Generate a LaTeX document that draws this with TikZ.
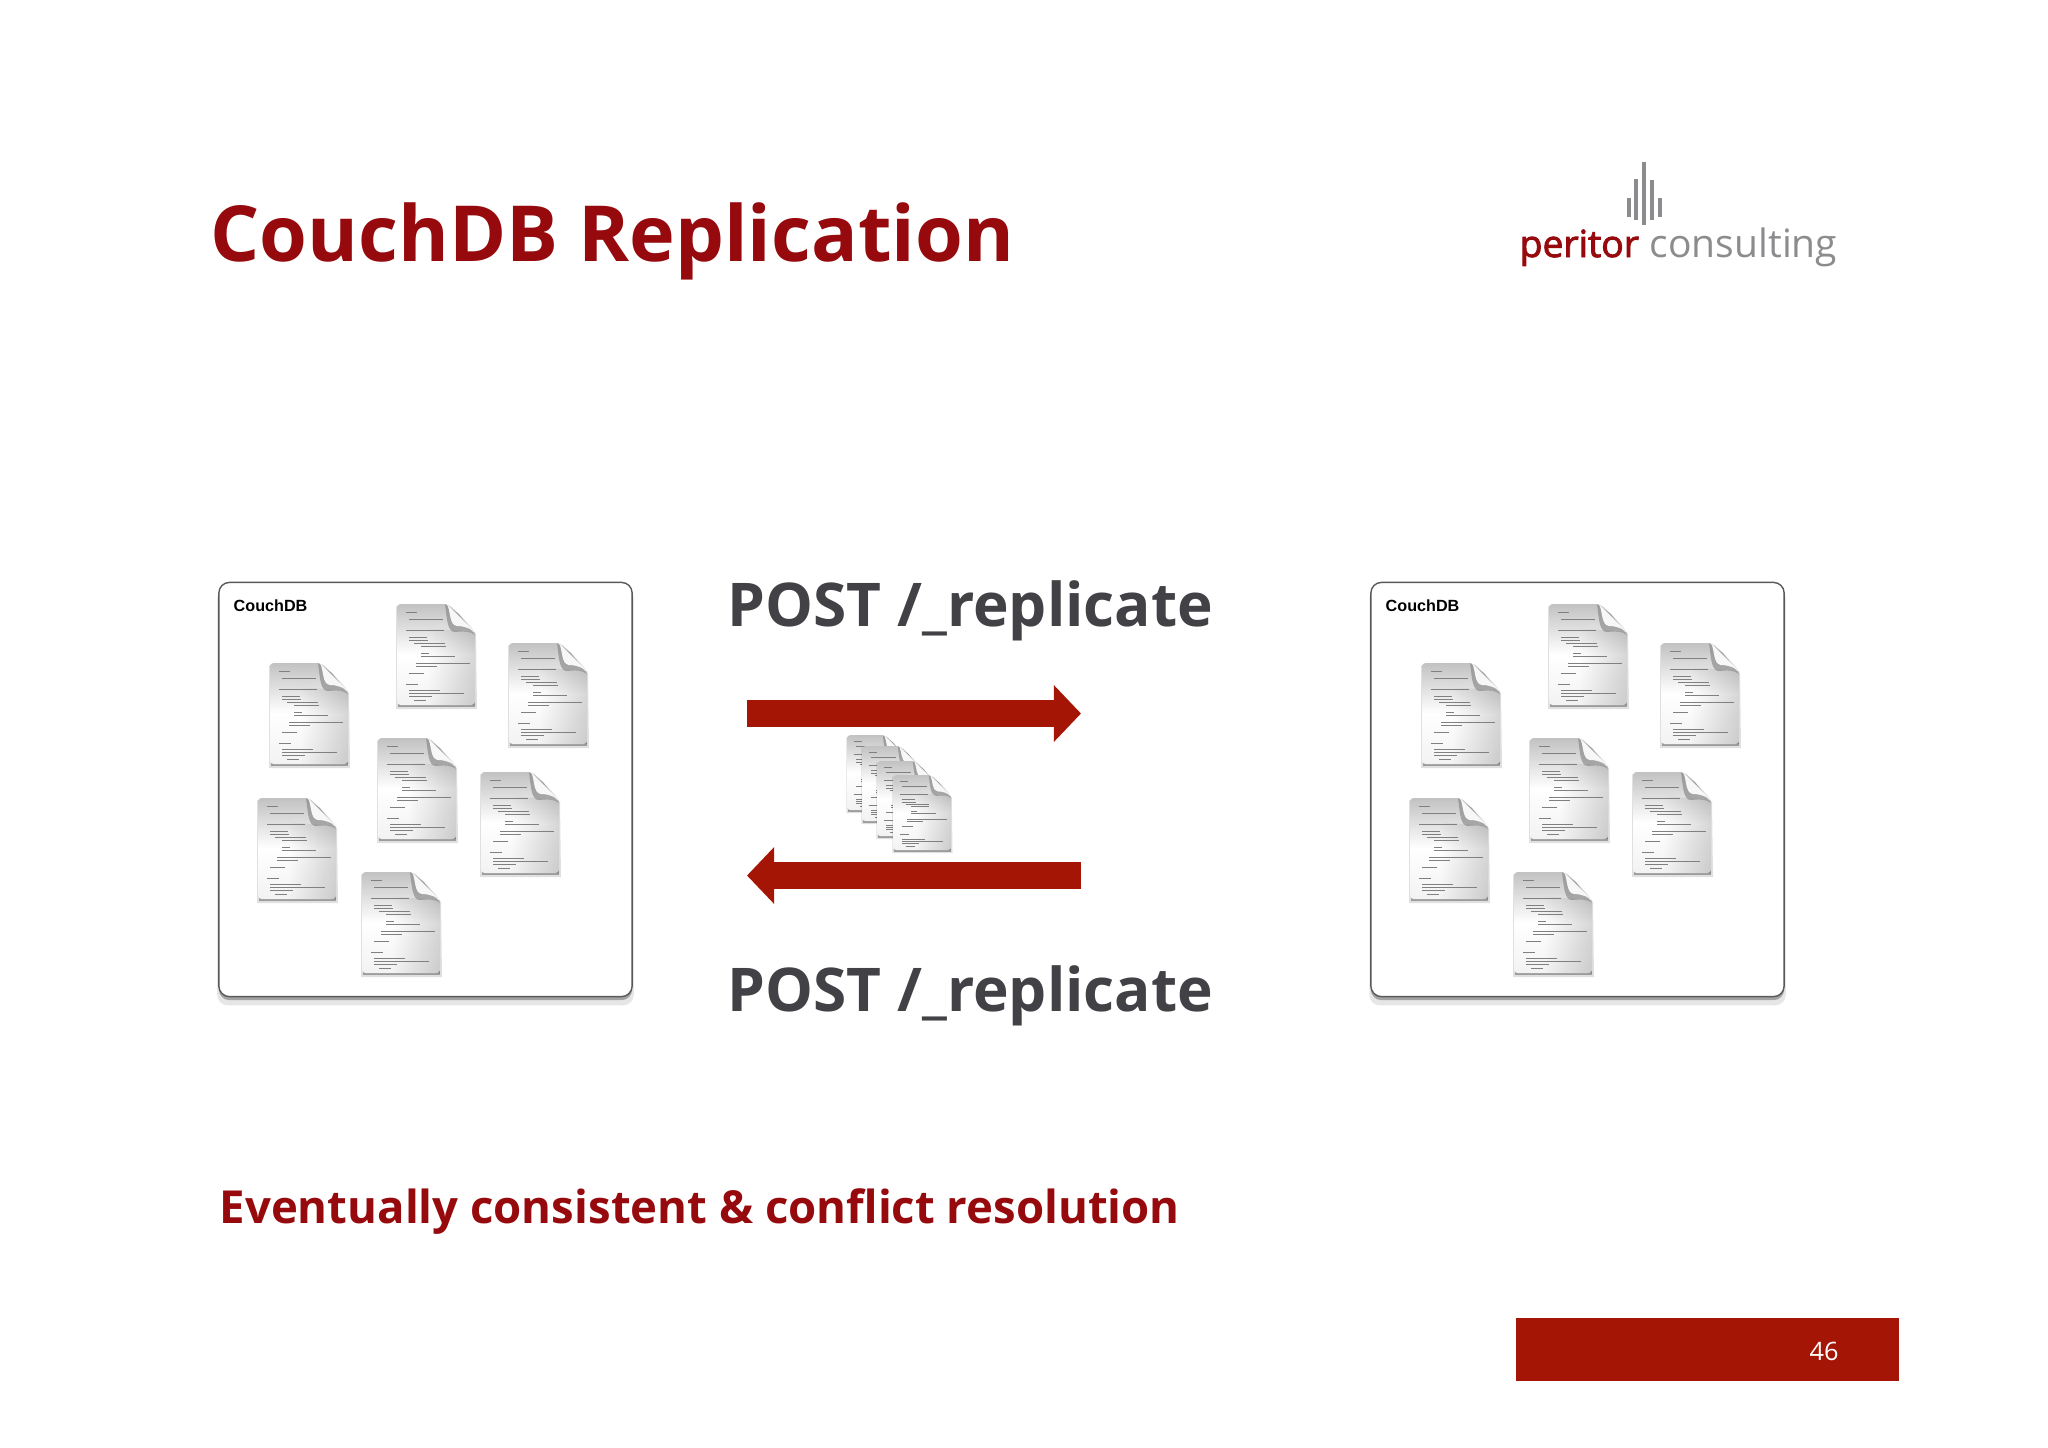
\documentclass[tikz,border=0pt]{standalone}
\usepackage{fontspec}
\setmainfont{Open Sans}
\newfontfamily\labelfont{Liberation Sans}
\newfontfamily\logofont[FakeBold=2.4]{Open Sans}
\usepackage{xcolor}
\definecolor{peritorred}{RGB}{150,10,14}
\definecolor{arrowred}{RGB}{165,21,6}
\definecolor{postgray}{RGB}{65,65,70}
\definecolor{logogray}{RGB}{140,140,142}
\usepackage{tikz}
\usetikzlibrary{arrows.meta,shadows,fadings}

\tikzset{
  dbbox/.style={draw=black!65,line width=0.4pt,rounded corners=3pt,fill=white,
        minimum width=4.13cm,minimum height=4.14cm,inner sep=0pt,
        drop shadow={shadow xshift=0pt,shadow yshift=-2pt,opacity=0.2,shadow scale=1.008},
        drop shadow={shadow xshift=0pt,shadow yshift=-1pt,opacity=0.65}},
  dbtitle/.style={font=\labelfont\bfseries\fontsize{4.6}{5}\selectfont,inner sep=0pt,anchor=west},
  replarrow/.style={line width=0.27cm,draw=arrowred,-{Triangle[length=0.27cm,width=0.55cm]}},
  posttext/.style={font=\bfseries\fontsize{17.15}{19}\selectfont,text=postgray,inner sep=0pt,anchor=base west},
  codeline/.style={draw=black!50,line width=0.16pt},
  docicon/.pic={
    \fill[black,opacity=0.12] (-1,2) -- (79,30) -- (80,105) -- (-1,105) -- cycle;
    \fill[black,opacity=0.3] (1,99) rectangle (78,103);
    \shade[top color=black!24,bottom color=black!5,middle color=white,rounded corners=1pt]
      (0,0) -- (50,0) .. controls (56,4) and (70,18) .. (78,28) -- (78,101) -- (0,101) -- cycle;
    \fill[black,opacity=0.16,path fading=west] (30,24) -- (78,28) -- (78,101) -- (30,101) -- cycle;
    \fill[black!50,opacity=0.6] (48,0) .. controls (50,14) and (50,28) .. (58,28)
      .. controls (66,27) and (74,27) .. (78,31) -- (62,10) -- cycle;
    \fill[black!3] (50,0) .. controls (54,8) and (52,21) .. (60,22)
      .. controls (68,22) and (74,25) .. (78,28) -- cycle;
    \foreach \xa/\xb/\yy in {9/20/8,12/46/15,9/47/26,12/30/33,12/31/36,17/48/39,24/49/42,
        24/32/49,24/58/52,19/73/59,19/40/62,12/27/69,9/21/80,12/43/86,12/67/89,12/35/92,17/29/96}
      \draw[codeline] (\xa,\yy) -- (\xb,\yy);
  }
}

\begin{document}
\begin{tikzpicture}[x=0.01cm,y=-0.01cm]
  \useasboundingbox (0,0) rectangle (2048,1447);

  \node[font=\bfseries\fontsize{22}{26}\selectfont,text=peritorred,inner sep=0pt,anchor=base west]
    (title) at (210,261) {CouchDB Replication};

  % logo
  \foreach \xx/\ya/\yb in {1629/198/217,1636/179/220,1644/162/225,1652/180/220,1660/198/217}
    \draw[logogray,line width=1pt] (\xx,\ya) -- (\xx,\yb);
  \node[font=\logofont\fontsize{10.6}{13}\selectfont,text=peritorred,inner sep=0pt,anchor=base west]
    (peritor) at (1519,257) {peritor};
  \node[font=\fontsize{11.1}{13}\selectfont,text=logogray,inner sep=0pt,anchor=base west]
    (consulting) at (1649,257) {consulting};

  % both databases
  \node[dbbox] (leftdb) at (425.5,789.5) {};
  \node[dbbox] (rightdb) at (1577.5,789.5) {};
  \node[dbtitle] (lefttitle) at (233,605.5) {CouchDB};
  \node[dbtitle] (righttitle) at (1385,605.5) {CouchDB};
  \foreach \xo in {0,1152}
    \foreach \xx/\yy in {397/604,509/643,270/663,378/738,481/772,258/798,362/872}
      \pic at (\xo+\xx,\yy) {docicon};

  % documents on the wire
  \foreach \xx/\yy in {847/735,862/746,877/761,893/775}
    \pic[scale=0.744] at (\xx,\yy) {docicon};

  \node[posttext] (posttop) at (727,626) {POST /\_replicate};
  \node[posttext] (postbottom) at (727,1011) {POST /\_replicate};

  \coordinate (topstart) at (747,713.5);
  \coordinate (topend) at (1081,713.5);
  \coordinate (bottomstart) at (1081,875.5);
  \coordinate (bottomend) at (747,875.5);
  \draw[replarrow] (topstart) -- (topend);
  \draw[replarrow] (bottomstart) -- (bottomend);

  \node[font=\bfseries\fontsize{12.94}{16}\selectfont,text=peritorred,inner sep=0pt,anchor=base west]
    (claim) at (219,1223) {Eventually consistent \& conflict resolution};

  \node[fill=arrowred,minimum width=3.83cm,minimum height=0.63cm,inner sep=0pt] (footer) at (1707.5,1349) {};
  \node[font=\fontsize{7.2}{9}\selectfont,text=white,inner sep=0pt] (pagenum) at (1824,1351) {46};
\end{tikzpicture}
\end{document}
